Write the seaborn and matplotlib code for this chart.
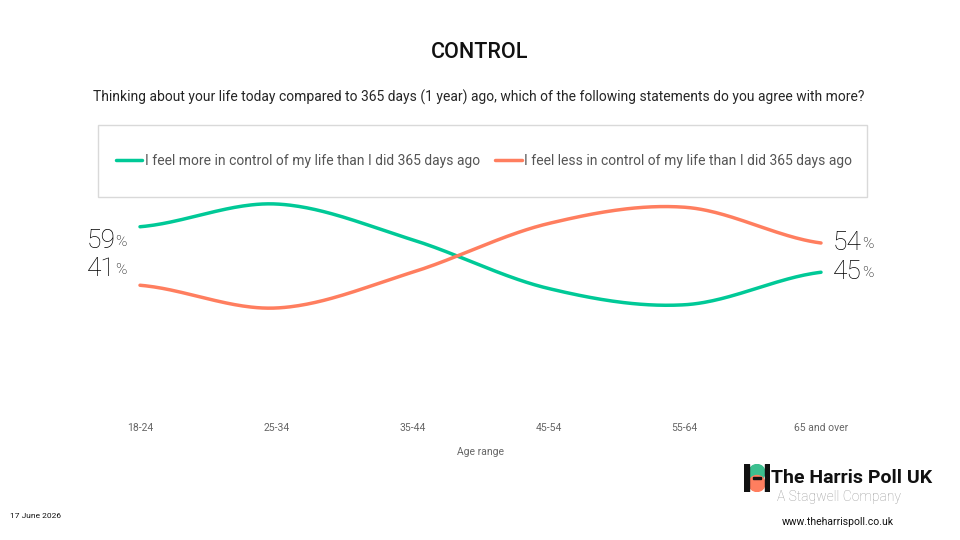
import numpy as np
import pandas as pd
import matplotlib
matplotlib.use('Agg')
import matplotlib.pyplot as plt
import seaborn as sns
from matplotlib.patches import Rectangle, Circle

# data
ages = ['18-24', '25-34', '35-44', '45-54', '55-64', '65 and over']
more_control = [59, 66, 55, 40, 35, 45]
less_control = [41, 34, 45, 60, 65, 54]
series_names = ['I feel more in control of my life than I did 365 days ago',
                'I feel less in control of my life than I did 365 days ago']

green = '#00c997'
orange = '#ff7e5f'


def smooth_curve(x, y, n=50):
    # catmull-rom style smoothing (like a "smoothed line") for drawing only
    x = np.asarray(x, float)
    y = np.asarray(y, float)
    yp = np.concatenate([[y[0]], y, [y[-1]]])
    t = (yp[2:] - yp[:-2]) / 2
    xs, ys = [], []
    for i in range(len(x) - 1):
        u = np.linspace(0, 1, n)
        h00 = 2 * u**3 - 3 * u**2 + 1
        h10 = u**3 - 2 * u**2 + u
        h01 = -2 * u**3 + 3 * u**2
        h11 = u**3 - u**2
        xs.append(x[i] + u * (x[i + 1] - x[i]))
        ys.append(h00 * y[i] + h10 * t[i] + h01 * y[i + 1] + h11 * t[i + 1])
    return np.concatenate(xs), np.concatenate(ys)


sns.set_theme(style='white')
plt.rcParams['font.family'] = ['Roboto', 'DejaVu Sans']

fig = plt.figure(figsize=(9.6, 5.4), dpi=100)
ax = fig.add_axes([140 / 960, 1 - 418.5 / 540, 681 / 960, 325 / 540])

pos = np.arange(len(ages))
for vals, col, name in [(more_control, green, series_names[0]),
                        (less_control, orange, series_names[1])]:
    cx, cy = smooth_curve(pos, vals)
    df = pd.DataFrame({'x': cx, 'y': cy})
    sns.lineplot(data=df, x='x', y='y', color=col, lw=2.5, ax=ax,
                 label=name, clip_on=False, sort=False)

ax.set_xlim(0, len(ages) - 1)
ax.set_ylim(0, 100)
for sp in ax.spines.values():
    sp.set_visible(False)
ax.set_yticks([])
ax.set_xticks(pos)
ax.set_xticklabels(ages, fontsize=7.5, color='#666666')
ax.tick_params(axis='x', length=0, pad=3)
ax.set_xlabel('Age range', fontsize=7.5, color='#666666', labelpad=10)
ax.set_ylabel('')


# end labels: big number + small percent sign
def end_label(xi, yi, val, side, dy):
    if side == 'left':
        pct = ax.annotate('%', (xi, yi), xytext=(-13, dy - 1), textcoords='offset pixels',
                          ha='right', va='center', fontsize=11, fontweight='light',
                          color='#000000')
        ax.annotate(f'{val}', (0, 0.5), xycoords=pct, xytext=(0, 1),
                    textcoords='offset pixels', ha='right', va='center', fontsize=19,
                    fontweight='light', color='#000000')
    else:
        num = ax.annotate(f'{val}', (xi, yi), xytext=(12, dy), textcoords='offset pixels',
                          ha='left', va='center', fontsize=19, fontweight='light',
                          color='#000000')
        ax.annotate('%', (1, 0.5), xycoords=num, xytext=(0, -1),
                    textcoords='offset pixels', ha='left', va='center', fontsize=11,
                    fontweight='light', color='#000000')


end_label(pos[0], more_control[0], more_control[0], 'left', -14)
end_label(pos[0], less_control[0], less_control[0], 'left', 16)
end_label(pos[-1], less_control[-1], less_control[-1], 'right', 0)
end_label(pos[-1], more_control[-1], more_control[-1], 'right', 0)

# legend in a light grey box
handles, labels = ax.get_legend_handles_labels()
ax.get_legend().remove()
fig.patches.append(Rectangle((98 / 960, 1 - 197 / 540), 769 / 960, 72 / 540,
                             transform=fig.transFigure, fill=False,
                             edgecolor='#d9d9d9', lw=1))
fig.legend(handles, labels, loc='center', bbox_to_anchor=(484 / 960, 1 - 161 / 540),
           ncol=2, frameon=False, fontsize=10, handlelength=1.9,
           handletextpad=0.2, columnspacing=1.1, labelcolor='#555555')

fig.text(0.5, 1 - 53 / 540, 'CONTROL', ha='center', va='center', fontsize=15.5,
         fontweight='medium', color='#111111')
fig.text(479 / 960, 1 - 97 / 540,
         'Thinking about your life today compared to 365 days (1 year) ago, which of the following statements do you agree with more?',
         ha='center', va='center', fontsize=10, color='#262626')

fig.text(10 / 960, 1 - 516 / 540, '17 June 2026', ha='left', va='center',
         fontsize=6, color='#111111')

# logo
lax = fig.add_axes([744 / 960, 1 - 492 / 540, 26 / 960, 28 / 540])
lax.set_xlim(0, 26)
lax.set_ylim(0, 28)
lax.axis('off')
lax.add_patch(Circle((13, 19.5), 8, color='#3cbf8f'))
lax.add_patch(Circle((13, 8.5), 8, color='#ff7e5f'))
lax.add_patch(Rectangle((9, 13), 8, 2, color='#111111'))
lax.add_patch(Rectangle((0, 0), 5, 28, color='#111111'))
lax.add_patch(Rectangle((21, 0), 5, 28, color='#111111'))

fig.text(771 / 960, 1 - 478 / 540, 'The Harris Poll UK', ha='left', va='center',
         fontsize=14, fontweight='bold', color='#111111')
fig.text(777 / 960, 1 - 497 / 540, 'A Stagwell Company', ha='left', va='center',
         fontsize=10, fontweight='light', color='#999999')
fig.text(838 / 960, 1 - 522 / 540, 'www.theharrispoll.co.uk', ha='center', va='center',
         fontsize=7.5, color='#111111')

fig.savefig('out.png', dpi=100)
